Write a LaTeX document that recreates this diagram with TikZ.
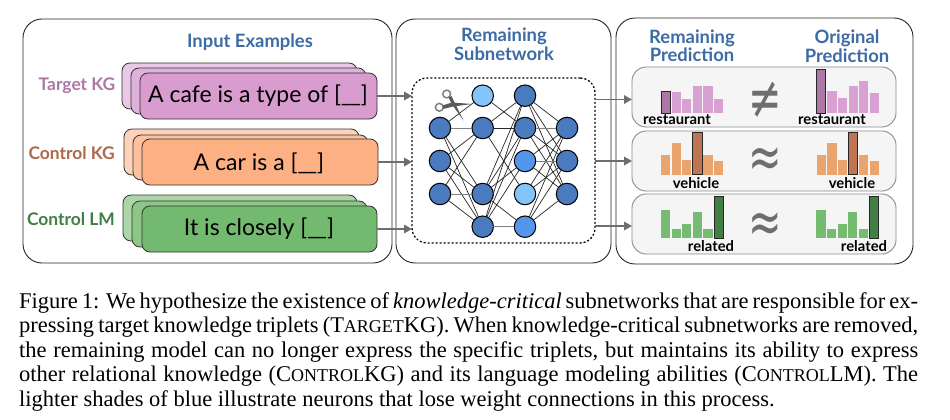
\documentclass[tikz,border=0pt]{standalone}
\usepackage{fontspec}
\setmainfont{Liberation Serif}
\newfontfamily\lato{Lato}
\newfontfamily\djv{DejaVu Sans}
\usetikzlibrary{arrows.meta,calc}
\definecolor{titleblue}{HTML}{3C6BA5}
\definecolor{tA}{HTML}{E8C8E5}\definecolor{tB}{HTML}{DFB2DB}\definecolor{tC}{HTML}{D89CCF}
\definecolor{kA}{HTML}{FDD2B8}\definecolor{kB}{HTML}{FDC1A0}\definecolor{kC}{HTML}{FDB083}
\definecolor{lA}{HTML}{ABD6A6}\definecolor{lB}{HTML}{8DC686}\definecolor{lC}{HTML}{73BA70}
\definecolor{barP}{HTML}{D9A1D1}\definecolor{barPd}{HTML}{AD78A5}
\definecolor{barO}{HTML}{E9A56D}\definecolor{barOd}{HTML}{C07552}
\definecolor{barG}{HTML}{76BB72}\definecolor{barGd}{HTML}{427F45}
\definecolor{nDark}{HTML}{4A7BBF}\definecolor{nMid}{HTML}{5596EA}\definecolor{nLight}{HTML}{85C4FB}
\definecolor{arrowgray}{HTML}{6E6E6E}
\newcommand{\fsc}[1]{{\fontsize{18pt}{18pt}\selectfont #1}}
\newcommand{\blank}{\_\kern-1.5pt\_}
\tikzset{
  x=1pt,y=-1pt,
  box/.style={rectangle,inner sep=0pt,outer sep=0pt},
  panel/.style={box,draw=black!85,line width=0.9pt,rounded corners=19pt},
  card/.style={box,draw=black!80,line width=0.8pt,rounded corners=8pt},
  rowbox/.style={box,draw=black!45,line width=0.9pt,fill=black!4,rounded corners=14pt},
  head/.style={font=\lato\bfseries\fontsize{18.4pt}{19pt}\selectfont,text=titleblue,align=center,inner sep=0pt},
  side/.style={font=\lato\bfseries\fontsize{17.4pt}{18pt}\selectfont,anchor=east,inner sep=0pt},
  cardtext/.style={font=\lato\fontsize{23pt}{25pt}\selectfont,text=black,inner sep=0pt},
  barlabel/.style={font=\lato\bfseries\fontsize{14.8pt}{16pt}\selectfont,text=black,inner sep=0pt},
  neuron/.style={circle,draw=black,line width=1pt,minimum size=21.5pt,inner sep=0pt,outer sep=0pt},
  syn/.style={draw=black!85,line width=0.7pt},
  syng/.style={draw=black!50,line width=1pt},
  flow/.style={draw=arrowgray,line width=1.7pt,-{Triangle[length=8pt,width=8.5pt]}},
  sym/.style={font=\djv\fontsize{40pt}{40pt}\selectfont,text=arrowgray,inner sep=0pt},
  captext/.style={font=\fontsize{22.5pt}{24.5pt}\selectfont,text=black,inner sep=0pt,anchor=north west,text width=899pt,align=justify},
}
% name, style, x0, y0, x1, y1, extra
\newcommand{\rbox}[7]{%
  \pgfmathsetmacro{\cxx}{(#3+#5)/2}\pgfmathsetmacro{\cyy}{(#4+#6)/2}%
  \pgfmathsetmacro{\ww}{#5-#3}\pgfmathsetmacro{\hh}{#6-#4}%
  \node[#2,minimum width=\ww pt,minimum height=\hh pt,#7] (#1) at (\cxx,\cyy) {};%
}
% x0, baseline, light colour, dark colour, index of dark bar, tops
\newcommand{\bars}[6]{%
  \foreach \t [count=\i] in {#6} {%
    \pgfmathsetmacro{\xa}{#1+(\i-1)*10.6}%
    \pgfmathsetmacro{\xb}{\xa+9.2}%
    \ifnum\i=#5\relax
      \draw[fill=#4,draw=black!85,line width=0.9pt] (\xa,\t) rectangle (\xb,#2);%
    \else
      \fill[#3] (\xa,\t) rectangle (\xb,#2);%
    \fi
  }%
}
\begin{document}
\begin{tikzpicture}
\useasboundingbox (0,0) rectangle (950,420);
\fill[white] (0,0) rectangle (950,420);

% panels
\rbox{pIn}{panel}{23}{19}{392}{263}{}
\rbox{pNet}{panel}{396}{19}{611}{263}{}
\rbox{pOut}{panel}{616}{18}{913}{264}{}
\node[head] (hIn) at (250,42) {Input Examples};
\node[head] (hNet) at (504,44.5) {Remaining\\[-0.5pt]Subnetwork};
\node[head] (hRem) at (692,46) {Remaining\\[-0.5pt]Prediction};
\node[head] (hOri) at (847,46) {Original\\[-0.5pt]Prediction};

% input cards
\rbox{a1}{card}{122}{63}{357}{109}{fill=tA}
\rbox{a2}{card}{131}{68}{366}{114}{fill=tB}
\rbox{a3}{card}{140}{73}{377}{119}{fill=tC}
\rbox{b1}{card}{124}{129}{359}{175}{fill=kA}
\rbox{b2}{card}{133}{135}{368}{180}{fill=kB}
\rbox{b3}{card}{142}{139}{378}{185}{fill=kC}
\rbox{c1}{card}{123}{195}{357}{241}{fill=lA}
\rbox{c2}{card}{132}{201}{367}{247}{fill=lB}
\rbox{c3}{card}{142}{206}{377}{252}{fill=lC}
\node[cardtext] (ta) at (258,96) {A cafe is a type of [\blank]};
\node[cardtext] (tb) at (259,163) {A car is a [\blank]};
\node[cardtext] (tc) at (259,229) {It is closely [\blank]};
\node[side,text=barPd] (la) at (115.5,85.5) {Target KG};
\node[side,text=barOd!90!black] (lb) at (115,153.5) {Control KG};
\node[side,text=barGd] (lc) at (115,219.5) {Control LM};

% network frame
\rbox{net}{box,draw=black,line width=1.3pt,dash pattern=on 1.3pt off 2.7pt,line cap=round,rounded corners=15pt}{412}{78}{595}{243}{}

% neurons
\foreach \n/\x/\y/\c in {
  p1/440/128/nDark,p2/440/161/nDark,p3/440/194/nDark,
  q1/482.7/95.7/nLight,q2/482.7/128/nDark,q3/482.7/194/nDark,q4/482.7/226.7/nDark,
  r1/525/95.7/nDark,r2/525/128/nDark,r3/525/161/nMid,r4/525/194/nLight,r5/525/226.7/nMid,
  s1/567/128/nDark,s2/567/161/nDark,s3/567/194/nDark}
  \node[neuron,fill=\c] (\n) at (\x,\y) {};

\foreach \a/\b in {p1/q1,p1/q3,p1/q4,p2/q2,p2/q3,p2/q4,p3/q2,p3/q4,
  q1/r2,q2/r1,q2/r2,q2/r4,q3/r1,q3/r2,q3/r3,q3/r5,q4/r1,q4/r2,q4/r3,
  r1/s1,r1/s2,r1/s3,r2/s2,r2/s3,r3/s1,r3/s3,r4/s1,r4/s2,r5/s1,r5/s2,r5/s3}
  \draw[syn] (\a) -- (\b);
\foreach \a/\b in {p1/q2,p3/q3,q4/r5,r2/s1,r3/s2}
  \draw[syng] (\a) -- (\b);

% scissors
\draw[black!50,line width=1.5pt] (446.7,94) circle (3.9);
\draw[black!50,line width=1.5pt] (439.3,107.3) circle (3.9);
\fill[black!65] (448.5,97.5) -- (451.5,96) -- (454,101.5) -- (463.5,120.5) -- (452,104.5) -- cycle;
\fill[black!65] (443,105.3) -- (452,102.5) -- (472,104) -- (453,106.5) -- (443,109) -- cycle;

% arrows in
\coordinate (i1) at (a3.east);
\coordinate (i2) at (b3.east);
\coordinate (i3) at (c3.east);
\draw[flow] (i1) -- (i1 -| net.west);
\draw[flow] (i2) -- (i2 -| net.west);
\draw[flow] (i3) -- (i3 -| net.west);

% result rows
\rbox{ra}{rowbox}{632}{67}{896}{127}{}
\rbox{rb}{rowbox}{632}{131}{896}{191}{}
\rbox{rc}{rowbox}{632}{194}{896}{254}{}
\coordinate (o1) at ($(ra.west)+(0,2.5)$);
\coordinate (o2) at (rb.west);
\coordinate (o3) at ($(rc.west)+(0,2)$);
\draw[flow] (o1 -| net.east) -- (o1);
\draw[flow] (o2 -| net.east) -- (o2);
\draw[flow] (o3 -| net.east) -- (o3);

% bars
\bars{661}{113}{barP}{barPd}{1}{91.7,91.7,98.7,86,86,98.7}
\bars{816.7}{113}{barP}{barPd}{1}{69,90.7,98.3,86,80.7,92.7}
\bars{661}{174.7}{barO}{barOd}{4}{155,142.7,160,132.7,155,161.3}
\bars{816.7}{174.7}{barO}{barOd}{4}{155,142.7,160,132.7,155,161.3}
\bars{661}{238.3}{barG}{barGd}{6}{210,229.3,224,212.3,229.3,196}
\bars{816.3}{238.3}{barG}{barGd}{6}{210,229.3,224,212.3,229.3,196}

\node[barlabel] (v1) at (677,120) {restaurant};
\node[barlabel] (v2) at (832,120) {restaurant};
\node[barlabel] (v3) at (696,183) {vehicle};
\node[barlabel] (v4) at (852,183) {vehicle};
\node[barlabel] (v5) at (711,246.5) {related};
\node[barlabel] (v6) at (864,246.5) {related};

\node[sym,yscale=1.5] (e1) at (765,100) {≠};
\node[sym,yscale=1.5] (e2) at (765,163) {≈};
\node[sym,yscale=1.5] (e3) at (765,228) {≈};

% caption
\node[captext] (caption) at (19,292) {Figure 1: We hypothesize the existence of \textit{knowledge-critical} subnetworks that are responsible for ex-\linebreak
pressing target knowledge triplets (T\fsc{ARGET}KG). When knowledge-critical subnetworks are removed,\linebreak
the remaining model can no longer express the specific triplets, but maintains its ability to express\linebreak
other relational knowledge (C\fsc{ONTROL}KG) and its language modeling abilities (C\fsc{ONTROL}LM). The\linebreak
lighter shades of blue illustrate neurons that lose weight connections in this process.};
\end{tikzpicture}
\end{document}
